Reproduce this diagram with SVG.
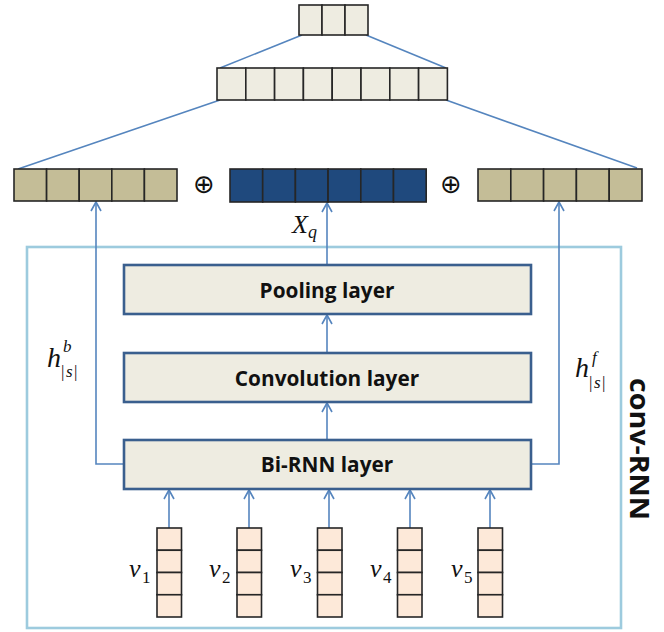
<svg xmlns="http://www.w3.org/2000/svg" width="664" height="632" viewBox="0 0 664 632">
<style>
.c{stroke:#262626;stroke-width:1.6}
.lt{fill:#EEECE1}
.tan{fill:#C4BD97}
.blu{fill:#1F497D}
.pk{fill:#FDE9D9}
.layer{fill:#EEECE1;stroke:#3A5F8E;stroke-width:2.6}
.lt-txt{font-family:"Open Sans","Liberation Sans",sans-serif;font-weight:bold;font-size:20.8px;fill:#111;text-anchor:middle}
.conn{fill:none;stroke:#5585BE;stroke-width:1.6}
.m{font-family:"Liberation Serif","DejaVu Serif",serif;font-style:italic;fill:#111}
.sub{font-family:"Liberation Serif","DejaVu Serif",serif;fill:#111}
.op{font-family:"DejaVu Sans",sans-serif;font-size:26px;text-anchor:middle;fill:#111}
</style>
<defs>
<marker id="ah" markerWidth="12" markerHeight="12" refX="10" refY="6" orient="auto" markerUnits="userSpaceOnUse">
<path d="M1,1 L10,6 L1,11" fill="none" stroke="#5585BE" stroke-width="1.6"/>
</marker>
</defs>
<rect x="0" y="0" width="664" height="632" fill="#fff"/>

<g id="frame">
<rect x="27" y="247" width="594" height="381" fill="none" stroke="#9DCBDE" stroke-width="2.6"/>
<text x="640" y="449" transform="rotate(90 640 449)" font-family="Open Sans, Liberation Sans, sans-serif" font-weight="bold" font-size="27" text-anchor="middle" dominant-baseline="central" textLength="142" lengthAdjust="spacingAndGlyphs" fill="#111">conv-RNN</text>
</g>

<g id="connectors">
<line class="conn" x1="302" y1="35" x2="220" y2="68"/>
<line class="conn" x1="366" y1="35" x2="446" y2="68"/>
<line class="conn" x1="220" y1="100" x2="18" y2="169"/>
<line class="conn" x1="446" y1="100" x2="637" y2="168"/>
<path class="conn" d="M124,464 H96 V202" marker-end="url(#ah)"/>
<path class="conn" d="M531,464 H559 V202" marker-end="url(#ah)"/>
<line class="conn" x1="327" y1="265" x2="327" y2="203" marker-end="url(#ah)"/>
<line class="conn" x1="327" y1="353" x2="327" y2="315" marker-end="url(#ah)"/>
<line class="conn" x1="327" y1="439" x2="327" y2="403" marker-end="url(#ah)"/>
<line class="conn" x1="169" y1="528" x2="169" y2="490" marker-end="url(#ah)"/>
<line class="conn" x1="249" y1="528" x2="249" y2="490" marker-end="url(#ah)"/>
<line class="conn" x1="329" y1="528" x2="329" y2="490" marker-end="url(#ah)"/>
<line class="conn" x1="410" y1="528" x2="410" y2="490" marker-end="url(#ah)"/>
<line class="conn" x1="490" y1="528" x2="490" y2="490" marker-end="url(#ah)"/>
</g>

<g id="top-vec">
<rect class="c lt" x="299" y="5" width="23" height="30"/>
<rect class="c lt" x="322" y="5" width="23" height="30"/>
<rect class="c lt" x="345" y="5" width="23" height="30"/>
</g>

<g id="mid-vec">
<rect class="c lt" x="217" y="68" width="28.8" height="32"/>
<rect class="c lt" x="245.8" y="68" width="28.8" height="32"/>
<rect class="c lt" x="274.6" y="68" width="28.8" height="32"/>
<rect class="c lt" x="303.4" y="68" width="28.8" height="32"/>
<rect class="c lt" x="332.2" y="68" width="28.8" height="32"/>
<rect class="c lt" x="361" y="68" width="28.8" height="32"/>
<rect class="c lt" x="389.8" y="68" width="28.8" height="32"/>
<rect class="c lt" x="418.6" y="68" width="28.8" height="32"/>
</g>

<g id="left-vec">
<rect class="c tan" x="14" y="169" width="32.6" height="32"/>
<rect class="c tan" x="46.6" y="169" width="32.6" height="32"/>
<rect class="c tan" x="79.2" y="169" width="32.6" height="32"/>
<rect class="c tan" x="111.8" y="169" width="32.6" height="32"/>
<rect class="c tan" x="144.4" y="169" width="32.6" height="32"/>
</g>

<g id="oplus1"><text class="op" x="204" y="193">⊕</text></g>

<g id="xq-vec">
<rect class="c blu" x="230" y="169" width="32.7" height="33"/>
<rect class="c blu" x="262.7" y="169" width="32.7" height="33"/>
<rect class="c blu" x="295.4" y="169" width="32.7" height="33"/>
<rect class="c blu" x="328.1" y="169" width="32.7" height="33"/>
<rect class="c blu" x="360.8" y="169" width="32.7" height="33"/>
<rect class="c blu" x="393.5" y="169" width="32.7" height="33"/>
<text class="m" x="292" y="233" font-size="26">X</text>
<text class="m" x="308" y="238" font-size="18">q</text>
</g>

<g id="oplus2"><text class="op" x="451" y="193">⊕</text></g>

<g id="right-vec">
<rect class="c tan" x="478" y="169" width="32.8" height="32"/>
<rect class="c tan" x="510.8" y="169" width="32.8" height="32"/>
<rect class="c tan" x="543.6" y="169" width="32.8" height="32"/>
<rect class="c tan" x="576.4" y="169" width="32.8" height="32"/>
<rect class="c tan" x="609.2" y="169" width="32.8" height="32"/>
</g>

<g id="pooling">
<rect class="layer" x="124" y="265" width="407" height="49"/>
<text class="lt-txt" x="327" y="298">Pooling layer</text>
</g>
<g id="convolution">
<rect class="layer" x="124" y="353" width="407" height="49"/>
<text class="lt-txt" x="327" y="386">Convolution layer</text>
</g>
<g id="birnn">
<rect class="layer" x="124" y="440" width="407" height="49"/>
<text class="lt-txt" x="327" y="472">Bi-RNN layer</text>
</g>

<g id="hb">
<text class="m" x="47" y="367" font-size="28">h</text>
<text class="m" x="63" y="352" font-size="17">b</text>
<text class="sub" x="61" y="377" font-size="17">|</text>
<text class="m" x="66" y="377" font-size="17">s</text>
<text class="sub" x="74" y="377" font-size="17">|</text>
</g>
<g id="hf">
<text class="m" x="575" y="377" font-size="28">h</text>
<text class="m" x="592" y="363" font-size="17">f</text>
<text class="sub" x="589" y="388" font-size="17">|</text>
<text class="m" x="594" y="388" font-size="17">s</text>
<text class="sub" x="602" y="388" font-size="17">|</text>
</g>

<g id="v1">
<rect class="c pk" x="157" y="528" width="24.5" height="22.25"/>
<rect class="c pk" x="157" y="550.25" width="24.5" height="22.25"/>
<rect class="c pk" x="157" y="572.5" width="24.5" height="22.25"/>
<rect class="c pk" x="157" y="594.75" width="24.5" height="22.25"/>
<text class="m" x="129" y="577" font-size="26">v</text><text class="sub" x="142" y="583" font-size="17">1</text>
</g>
<g id="v2">
<rect class="c pk" x="237" y="528" width="24.5" height="22.25"/>
<rect class="c pk" x="237" y="550.25" width="24.5" height="22.25"/>
<rect class="c pk" x="237" y="572.5" width="24.5" height="22.25"/>
<rect class="c pk" x="237" y="594.75" width="24.5" height="22.25"/>
<text class="m" x="209" y="577" font-size="26">v</text><text class="sub" x="222" y="583" font-size="17">2</text>
</g>
<g id="v3">
<rect class="c pk" x="317.5" y="528" width="24.5" height="22.25"/>
<rect class="c pk" x="317.5" y="550.25" width="24.5" height="22.25"/>
<rect class="c pk" x="317.5" y="572.5" width="24.5" height="22.25"/>
<rect class="c pk" x="317.5" y="594.75" width="24.5" height="22.25"/>
<text class="m" x="290" y="577" font-size="26">v</text><text class="sub" x="303" y="583" font-size="17">3</text>
</g>
<g id="v4">
<rect class="c pk" x="397.5" y="528" width="24.5" height="22.25"/>
<rect class="c pk" x="397.5" y="550.25" width="24.5" height="22.25"/>
<rect class="c pk" x="397.5" y="572.5" width="24.5" height="22.25"/>
<rect class="c pk" x="397.5" y="594.75" width="24.5" height="22.25"/>
<text class="m" x="370" y="577" font-size="26">v</text><text class="sub" x="383" y="583" font-size="17">4</text>
</g>
<g id="v5">
<rect class="c pk" x="478" y="528" width="24.5" height="22.25"/>
<rect class="c pk" x="478" y="550.25" width="24.5" height="22.25"/>
<rect class="c pk" x="478" y="572.5" width="24.5" height="22.25"/>
<rect class="c pk" x="478" y="594.75" width="24.5" height="22.25"/>
<text class="m" x="451" y="577" font-size="26">v</text><text class="sub" x="464" y="583" font-size="17">5</text>
</g>
</svg>
